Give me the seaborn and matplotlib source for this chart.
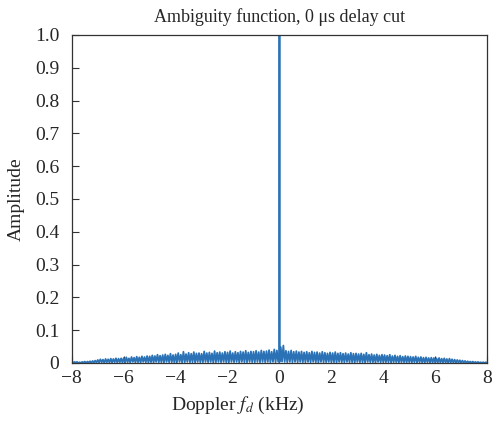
import numpy as np
import matplotlib
matplotlib.use("Agg")
import matplotlib.pyplot as plt
import seaborn as sns

# zero-delay cut, 0.05 kHz steps either side of the peak
amp_left = [
    0.002, 0.000, 0.003, 0.001, 0.003, 0.000, 0.002, 0.000, 0.003, 0.001,
    0.004, 0.000, 0.004, 0.001, 0.005, 0.000, 0.006, 0.001, 0.007, 0.001,
    0.009, 0.001, 0.011, 0.002, 0.010, 0.000, 0.012, 0.002, 0.011, 0.001,
    0.013, 0.001, 0.012, 0.002, 0.014, 0.001, 0.013, 0.002, 0.014, 0.001,
    0.015, 0.001, 0.017, 0.002, 0.014, 0.001, 0.018, 0.003, 0.016, 0.001,
    0.019, 0.002, 0.017, 0.001, 0.020, 0.003, 0.018, 0.002, 0.021, 0.001,
    0.020, 0.002, 0.023, 0.001, 0.021, 0.003, 0.025, 0.002, 0.022, 0.002,
    0.024, 0.001, 0.026, 0.003, 0.023, 0.002, 0.028, 0.002, 0.024, 0.001,
    0.026, 0.002, 0.030, 0.003, 0.025, 0.001, 0.034, 0.002, 0.027, 0.003,
    0.031, 0.002, 0.028, 0.002, 0.033, 0.001, 0.029, 0.003, 0.030, 0.002,
    0.028, 0.002, 0.035, 0.003, 0.030, 0.002, 0.032, 0.003, 0.029, 0.001,
    0.036, 0.002, 0.031, 0.003, 0.033, 0.002, 0.030, 0.003, 0.034, 0.002,
    0.032, 0.002, 0.036, 0.003, 0.030, 0.002, 0.034, 0.003, 0.031, 0.001,
    0.035, 0.003, 0.033, 0.002, 0.037, 0.002, 0.032, 0.003, 0.035, 0.002,
    0.034, 0.002, 0.037, 0.003, 0.033, 0.002, 0.038, 0.003, 0.035, 0.002,
    0.036, 0.003, 0.039, 0.002, 0.034, 0.003, 0.041, 0.002, 0.038, 0.004,
]
amp_peak = [0.003, 1.0, 0.004]
amp_right = [
    0.048, 0.004, 0.053, 0.003, 0.037, 0.002, 0.035, 0.003, 0.038, 0.002,
    0.034, 0.003, 0.036, 0.002, 0.033, 0.003, 0.035, 0.002, 0.032, 0.002,
    0.034, 0.003, 0.031, 0.002, 0.035, 0.003, 0.032, 0.002, 0.033, 0.001,
    0.030, 0.003, 0.034, 0.002, 0.031, 0.002, 0.029, 0.003, 0.032, 0.002,
    0.030, 0.002, 0.033, 0.001, 0.029, 0.003, 0.031, 0.002, 0.028, 0.002,
    0.030, 0.003, 0.027, 0.002, 0.031, 0.002, 0.028, 0.001, 0.029, 0.003,
    0.027, 0.002, 0.029, 0.002, 0.026, 0.001, 0.031, 0.003, 0.025, 0.002,
    0.027, 0.002, 0.024, 0.001, 0.026, 0.003, 0.023, 0.002, 0.025, 0.002,
    0.024, 0.002, 0.022, 0.002, 0.025, 0.001, 0.021, 0.002, 0.023, 0.002,
    0.020, 0.001, 0.022, 0.002, 0.019, 0.002, 0.021, 0.001, 0.020, 0.002,
    0.019, 0.001, 0.018, 0.002, 0.020, 0.001, 0.017, 0.002, 0.018, 0.001,
    0.016, 0.001, 0.017, 0.002, 0.015, 0.001, 0.016, 0.001, 0.015, 0.001,
    0.014, 0.001, 0.015, 0.001, 0.013, 0.001, 0.014, 0.001, 0.012, 0.000,
    0.013, 0.001, 0.011, 0.001, 0.010, 0.000, 0.009, 0.001, 0.008, 0.000,
    0.007, 0.001, 0.006, 0.000, 0.005, 0.001, 0.004, 0.000, 0.004, 0.000,
    0.003, 0.000, 0.003, 0.000, 0.002, 0.000, 0.002, 0.000, 0.002, 0.000,
]
amplitude = amp_left + amp_peak + amp_right
doppler = np.concatenate([np.linspace(-8, -0.05, len(amp_left)),
                          np.zeros(len(amp_peak)),
                          np.linspace(0.05, 8, len(amp_right))])

x_ticks = [-8, -6, -4, -2, 0, 2, 4, 6, 8]
y_ticks = [0, 0.1, 0.2, 0.3, 0.4, 0.5, 0.6, 0.7, 0.8, 0.9, 1.0]
y_labels = ['0', '0.1', '0.2', '0.3', '0.4', '0.5', '0.6', '0.7', '0.8', '0.9', '1.0']

sns.set_style('ticks')
plt.rcParams['font.family'] = ['Liberation Serif', 'DejaVu Serif']
plt.rcParams['mathtext.fontset'] = 'stix'

fig = plt.figure(figsize=(4.92, 4.21), dpi=100)
ax = fig.add_axes([0.146, 0.138, 0.844, 0.779])
sns.lineplot(x=doppler, y=amplitude, estimator=None, sort=False,
             color='#2a72b5', linewidth=1.3, ax=ax)

ax.set_xlim(-8, 8)
ax.set_ylim(0, 1.0)
ax.set_xticks(x_ticks)
ax.set_xticklabels(['\u2212%d' % -t if t < 0 else str(t) for t in x_ticks])
ax.set_yticks(y_ticks)
ax.set_yticklabels(y_labels)
ax.tick_params(direction='in', labelsize=14, length=5, width=0.8, color='#333333')
ax.tick_params(axis='y', pad=9)
ax.tick_params(axis='x', pad=5)
for s in ax.spines.values():
    s.set_visible(True)
    s.set_linewidth(0.9)
    s.set_color('#333333')

ax.set_title('Ambiguity function, 0 \u03bcs delay cut', fontsize=13, pad=9)
ax.set_xlabel('Doppler $f_d$ (kHz)', fontsize=14)
ax.xaxis.set_label_coords(0.40, -0.098)
ax.set_ylabel('Amplitude', fontsize=14)
ax.yaxis.set_label_coords(-0.113, 0.5)

fig.savefig('out.png', dpi=100)
